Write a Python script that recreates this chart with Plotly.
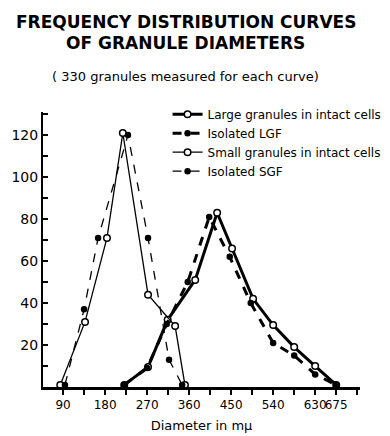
import plotly.graph_objects as go

# Data (diameter in m-mu, frequency)
large_x = [221, 272, 314, 373, 420, 452, 497, 540, 585, 630, 675]
large_y = [1, 9.5, 32, 51, 83, 66, 42, 29.5, 19, 10, 1]

lgf_x = [221, 270, 312, 357, 403, 447, 492, 540, 585, 630, 675]
lgf_y = [1, 9, 30, 50, 81, 62, 40, 21, 15, 6, 1]

small_x = [84, 137, 184, 218, 272, 330, 351]
small_y = [1, 31, 71, 121, 44, 29, 1]

sgf_x = [94, 135, 165, 229, 272, 317, 345]
sgf_y = [1, 37, 71, 120, 71, 13, 1]

x_ticks = [90, 180, 270, 360, 450, 540, 630, 675]
y_ticks = [20, 40, 60, 80, 100, 120]

FONT = "DejaVu Sans"

fig = go.Figure()

fig.add_trace(go.Scatter(
    x=large_x, y=large_y, mode="lines+markers",
    name="Large granules in intact cells",
    line=dict(color="black", width=3),
    marker=dict(symbol="circle", size=6.5, color="white", line=dict(color="black", width=1.5)),
))
fig.add_trace(go.Scatter(
    x=lgf_x, y=lgf_y, mode="lines+markers",
    name="Isolated LGF",
    line=dict(color="black", width=3, dash="dash"),
    marker=dict(symbol="circle", size=6.5, color="black"),
))
fig.add_trace(go.Scatter(
    x=small_x, y=small_y, mode="lines+markers",
    name="Small granules in intact cells",
    line=dict(color="black", width=1.3),
    marker=dict(symbol="circle", size=6.5, color="white", line=dict(color="black", width=1.5)),
))
fig.add_trace(go.Scatter(
    x=sgf_x, y=sgf_y, mode="lines+markers",
    name="Isolated SGF",
    line=dict(color="black", width=1.3, dash="dash"),
    marker=dict(symbol="circle", size=6.5, color="black"),
))

fig.update_layout(
    width=382, height=428,
    margin=dict(l=35, r=30, t=104, b=49, autoexpand=False),
    plot_bgcolor="white", paper_bgcolor="white",
    font=dict(family=FONT, color="black", size=12),
    showlegend=True,
    legend=dict(
        x=0.393, y=1.045, xanchor="left", yanchor="top",
        font=dict(family=FONT, size=12, color="black"),
        bgcolor="rgba(0,0,0,0)", itemwidth=30, tracegroupgap=0,
    ),
    xaxis=dict(
        range=[47, 726], showgrid=False, zeroline=False, automargin=False,
        showline=True, linecolor="black", linewidth=2.5,
        tickvals=x_ticks, tickangle=0, ticks="outside", ticklen=5, tickwidth=1.5, tickcolor="black",
        tickfont=dict(family=FONT, size=12),
        minor=dict(dtick=45, tick0=0, ticks="outside", ticklen=5, tickwidth=1.5, tickcolor="black"),
        title=dict(text="Diameter in m\u03bc", font=dict(family=FONT, size=13), standoff=10),
    ),
    yaxis=dict(
        range=[0, 131], showgrid=False, zeroline=False, automargin=False,
        showline=True, linecolor="black", linewidth=2,
        tickvals=y_ticks, ticks="inside", ticklen=5, tickwidth=1.5, tickcolor="black",
        tickfont=dict(family=FONT, size=14),
        minor=dict(dtick=10, tick0=0, ticks="inside", ticklen=5, tickwidth=1.5, tickcolor="black"),
    ),
    annotations=[
        dict(text="<b>FREQUENCY DISTRIBUTION CURVES</b>", xref="paper", yref="paper",
             x=0.45, y=1.328, xanchor="center", yanchor="middle", showarrow=False,
             font=dict(family=FONT, size=17)),
        dict(text="<b>OF GRANULE DIAMETERS</b>", xref="paper", yref="paper",
             x=0.45, y=1.25, xanchor="center", yanchor="middle", showarrow=False,
             font=dict(family=FONT, size=17)),
        dict(text="( 330 granules measured for each curve)", xref="paper", yref="paper",
             x=0.45, y=1.13, xanchor="center", yanchor="middle", showarrow=False,
             font=dict(family=FONT, size=13)),
    ],
)

fig.write_html("out.html")
